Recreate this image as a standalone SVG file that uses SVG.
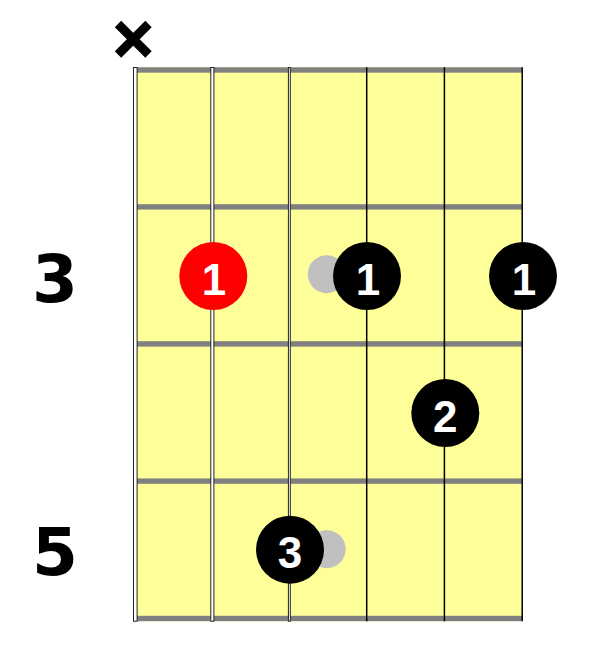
<svg xmlns="http://www.w3.org/2000/svg" width="589" height="662" viewBox="0 0 589 662">
<style>
.fret{fill:#808080}
.wound{fill:#ffffff;stroke:#222;stroke-width:1}
.plain{stroke:#000;stroke-width:1.5}
.dot{fill:#000}
.root{fill:#ff0000}
.ghost{fill:#c0c0c0}
.fing{font-family:"Liberation Sans",Arial,sans-serif;font-weight:bold;font-size:44px;fill:#fff;text-anchor:middle}
.pos{font-family:"DejaVu Sans",Verdana,sans-serif;font-weight:bold;font-size:66px;fill:#000;text-anchor:middle}
</style>
<rect width="589" height="662" fill="#fff"/>
<g id="board">
<rect x="137" y="67.3" width="385" height="554" fill="#ffff99"/>
</g>
<g id="frets">
<rect class="fret" x="135" y="67.3" width="387" height="5.4"/>
<rect class="fret" x="135" y="204.2" width="387" height="5.4"/>
<rect class="fret" x="135" y="341.2" width="387" height="5.4"/>
<rect class="fret" x="135" y="478.4" width="387" height="5.4"/>
<rect class="fret" x="135" y="615.8" width="387" height="5.4"/>
</g>
<g id="strings">
<rect class="wound" x="133.5" y="67.5" width="3.6" height="553.7"/>
<rect class="wound" x="210.8" y="67.5" width="3.1" height="553.7"/>
<rect class="wound" x="288.4" y="67.5" width="1.9" height="553.7"/>
<line class="plain" x1="366.7" y1="67.3" x2="366.7" y2="621.3"/>
<line class="plain" x1="444.4" y1="67.3" x2="444.4" y2="621.3"/>
<line class="plain" x1="522.2" y1="67.3" x2="522.2" y2="621.3"/>
</g>
<g id="mute">
<line x1="118" y1="24" x2="148.5" y2="54.5" stroke="#000" stroke-width="9"/>
<line x1="148.5" y1="24" x2="118" y2="54.5" stroke="#000" stroke-width="9"/>
</g>
<g id="labels">
<text class="pos" x="55" y="302">3</text>
<text class="pos" x="55" y="575">5</text>
</g>
<g id="ghost1"><circle class="ghost" cx="326.7" cy="274.3" r="19"/></g>
<g id="ghost2"><circle class="ghost" cx="326.7" cy="549.2" r="19"/></g>
<g id="dot-s2-f3">
<circle class="root" cx="213.3" cy="276" r="34"/>
<text class="fing" x="214" y="294.5">1</text>
</g>
<g id="dot-s4-f3">
<circle class="dot" cx="367" cy="276" r="34"/>
<text class="fing" x="368" y="294.5">1</text>
</g>
<g id="dot-s6-f3">
<circle class="dot" cx="523" cy="276" r="34"/>
<text class="fing" x="524" y="294.5">1</text>
</g>
<g id="dot-s5-f4">
<circle class="dot" cx="445.3" cy="413" r="34"/>
<text class="fing" x="445.3" y="431.5">2</text>
</g>
<g id="dot-s3-f5">
<circle class="dot" cx="290" cy="549.7" r="34"/>
<text class="fing" x="290" y="568">3</text>
</g>
</svg>
